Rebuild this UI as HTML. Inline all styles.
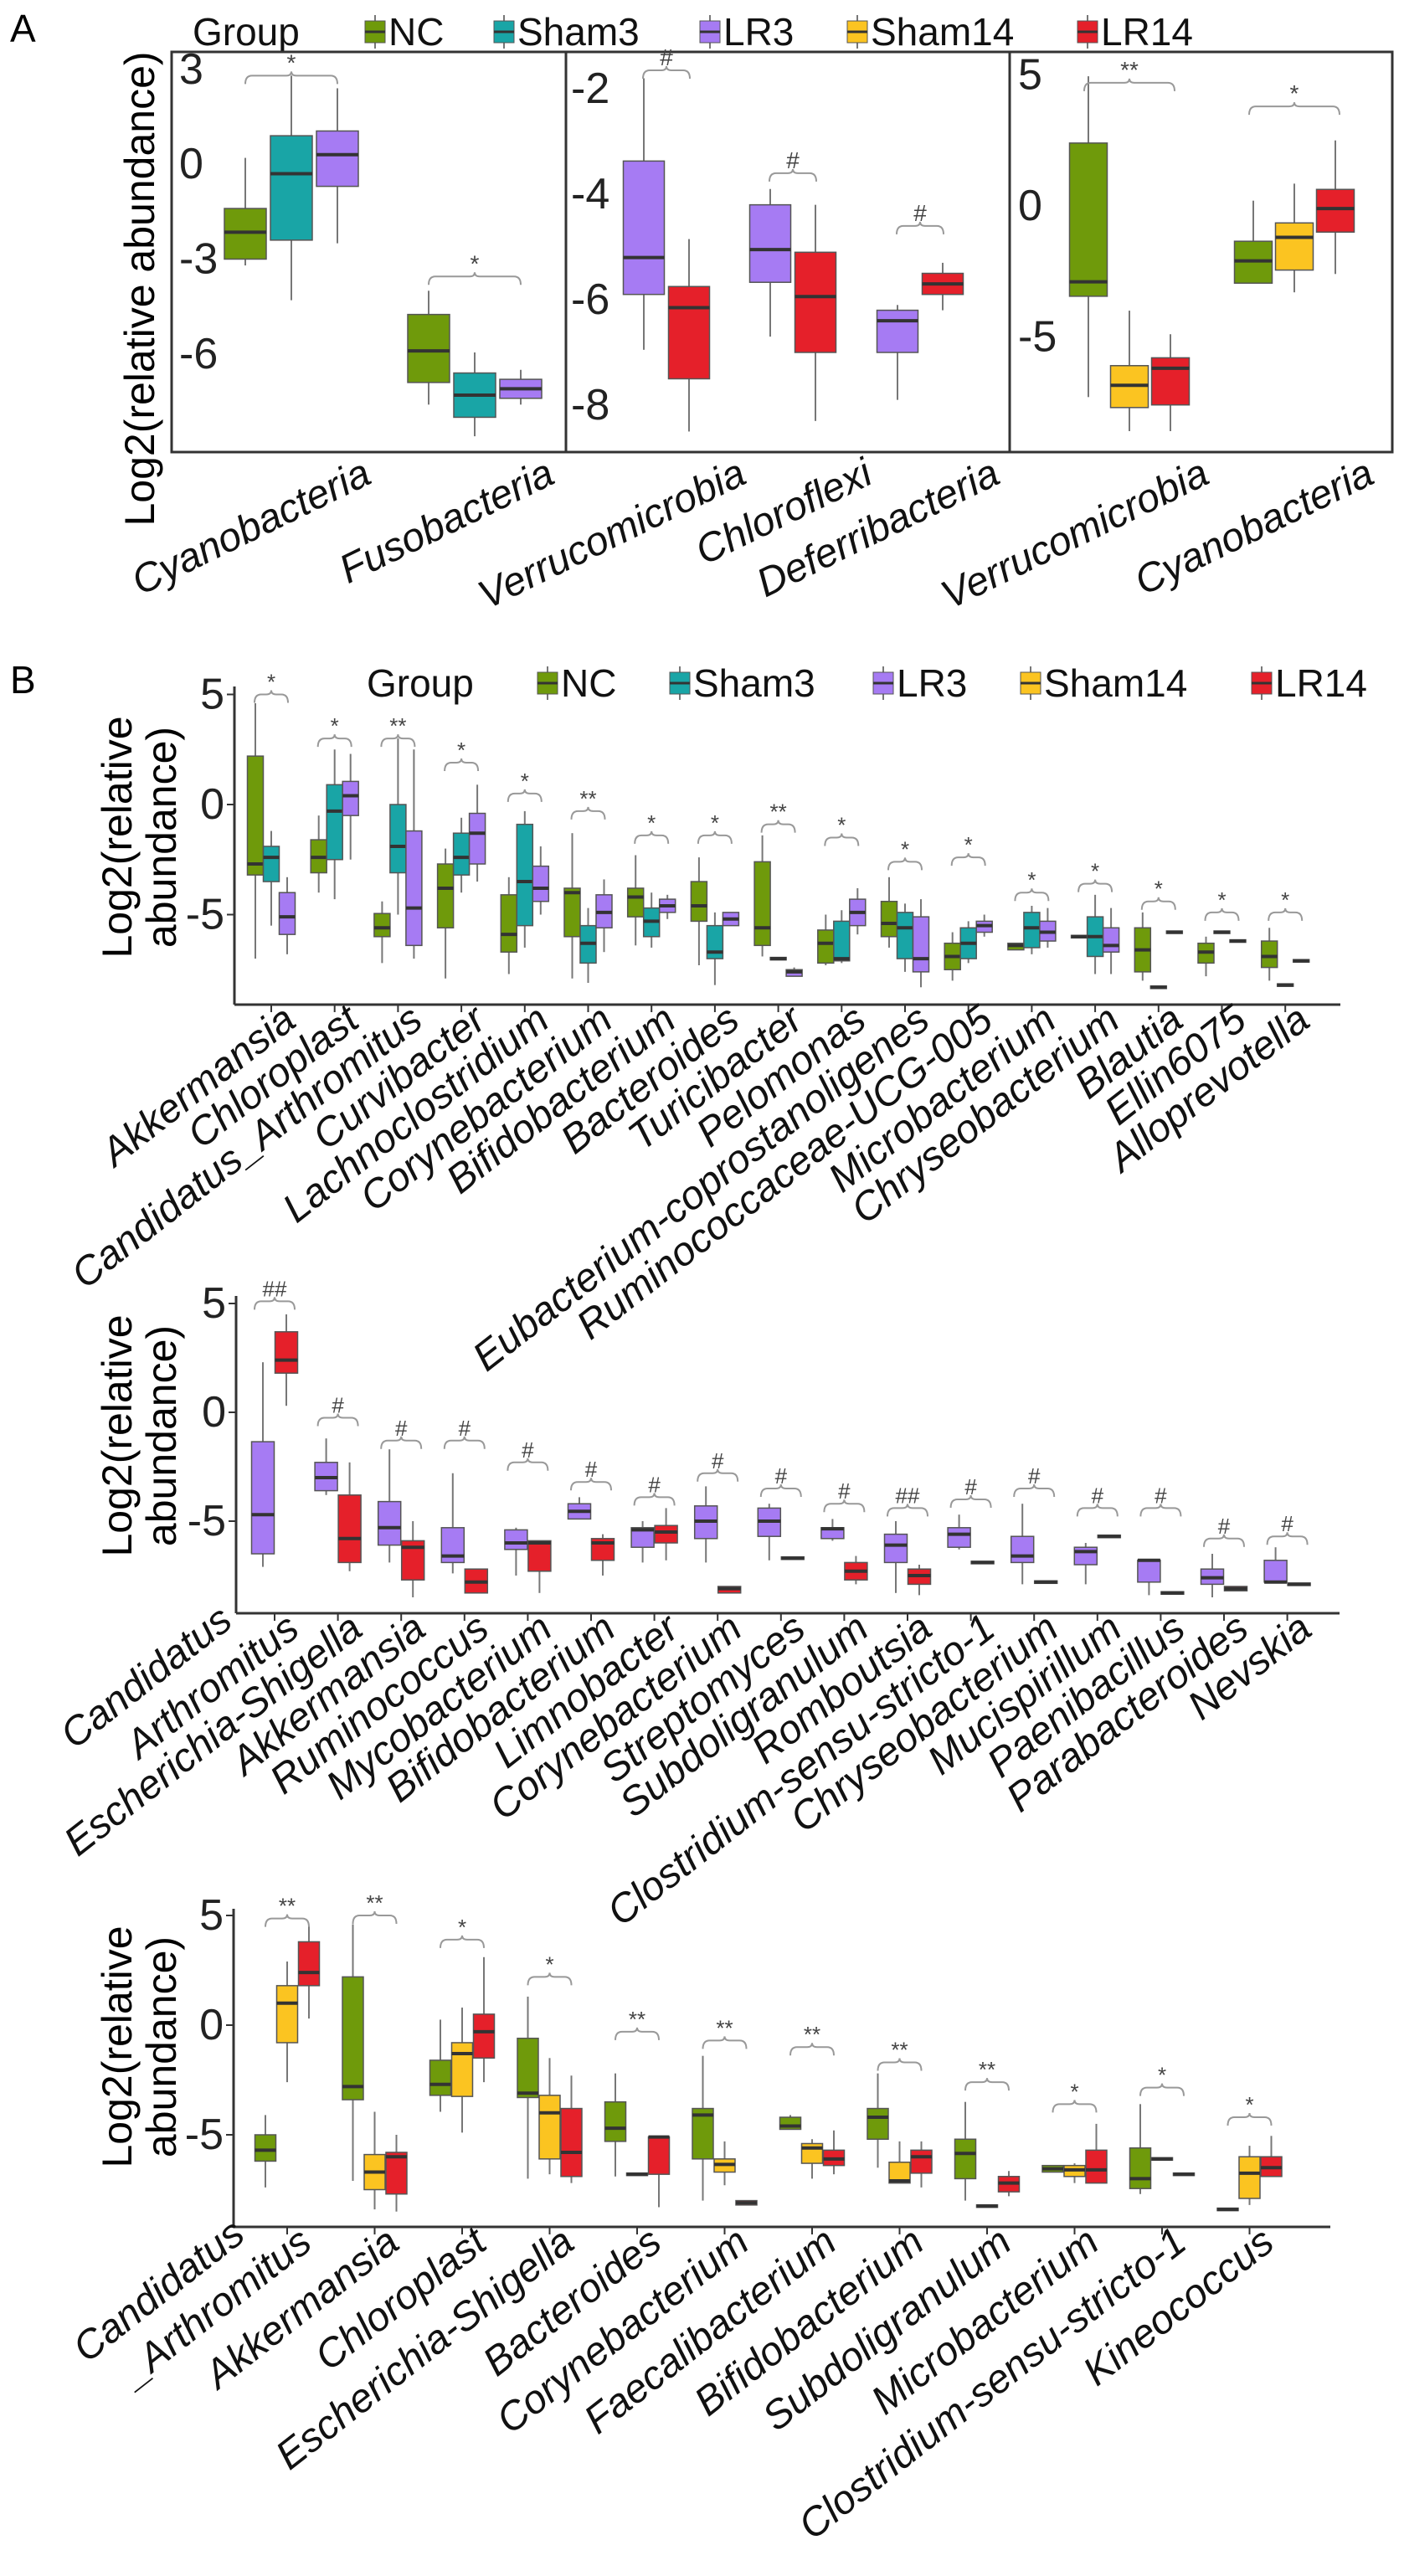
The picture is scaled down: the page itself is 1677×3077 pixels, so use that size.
<!DOCTYPE html>
<html><head><meta charset="utf-8">
<style>
html,body{margin:0;padding:0;background:#fff;}
svg{display:block;font-family:"Liberation Sans",Arial,sans-serif;}
.cat{font-style:italic;font-size:48px;fill:#111;}
.tick{font-size:52px;fill:#222;}
.leg{font-size:46px;fill:#111;}
.sig{font-size:26px;fill:#444;}
</style></head>
<body>
<svg id="fig" width="1677" height="3077" viewBox="0 0 1677 3077" xmlns="http://www.w3.org/2000/svg">
<rect x="0" y="0" width="1677" height="3077" fill="#fff"/>
<text x="12" y="50" font-size="46">A</text>
<text x="12" y="828" font-size="46">B</text>
<text x="184" y="345" font-size="50" text-anchor="middle" transform="rotate(-90 184 345)">Log2(relative abundance)</text>
<g>
<text x="157" y="1000" font-size="50" text-anchor="middle" transform="rotate(-90 157 1000)">Log2(relative</text>
<text x="210" y="1000" font-size="50" text-anchor="middle" transform="rotate(-90 210 1000)">abundance)</text></g>
<g>
<text x="157" y="1715" font-size="50" text-anchor="middle" transform="rotate(-90 157 1715)">Log2(relative</text>
<text x="210" y="1715" font-size="50" text-anchor="middle" transform="rotate(-90 210 1715)">abundance)</text></g>
<g>
<text x="157" y="2445" font-size="50" text-anchor="middle" transform="rotate(-90 157 2445)">Log2(relative</text>
<text x="210" y="2445" font-size="50" text-anchor="middle" transform="rotate(-90 210 2445)">abundance)</text></g>
<g id="root"></g>
</svg>
<script>
// ---------- colors ----------
const groupNames = ['NC','Sham3','LR3','Sham14','LR14'];
const groupColors = ['#6f9a0b','#19a5a6','#a67bf3','#fbc421','#e5202a'];

// ---------- Panel A data: [lo,q1,med,q3,hi] ----------
const a1Cats = ['Cyanobacteria','Fusobacteria'];
const a1NC = [[-3.2,-3.0,-2.15,-1.4,0.2],[-7.6,-6.9,-5.9,-4.75,-4.0]];
const a1Sham3 = [[-4.3,-2.4,-0.3,0.9,2.8],[-8.6,-8.0,-7.3,-6.6,-5.95]];
const a1LR3 = [[-2.5,-0.7,0.3,1.05,2.4],[-7.6,-7.4,-7.1,-6.8,-6.5]];
const a1Sig = [2.8,-3.55];
const a1SigLab = ['*','*'];
const a1Ticks = [3,0,-3,-6];

const a2Cats = ['Verrucomicrobia','Chloroflexi','Deferribacteria'];
const a2LR3 = [[-6.95,-5.9,-5.2,-3.37,-1.8],[-6.7,-5.67,-5.05,-4.2,-3.9],[-7.9,-7.0,-6.4,-6.2,-6.1]];
const a2LR14 = [[-8.5,-7.5,-6.15,-5.75,-4.85],[-8.3,-7.0,-5.94,-5.1,-4.2],[-6.2,-5.9,-5.7,-5.5,-5.3]];
const a2Sig = [-1.65,-3.6,-4.6];
const a2SigLab = ['#','#','#'];
const a2Ticks = [-2,-4,-6,-8];

const a3Cats = ['Verrucomicrobia','Cyanobacteria'];
const a3NC = [[-7.3,-3.45,-2.9,2.4,4.95],[-2.95,-2.95,-2.1,-1.35,0.2]];
const a3Sham14 = [[-8.6,-7.7,-6.85,-6.1,-4.0],[-3.3,-2.45,-1.2,-0.65,0.85]];
const a3LR14 = [[-8.6,-7.6,-6.2,-5.8,-4.9],[-2.6,-1.0,-0.1,0.63,2.5]];
const a3Sig = [4.7,3.8];
const a3SigLab = ['**','*'];
const a3Ticks = [5,0,-5];

// ---------- Panel B1 ----------
const b1Cats = ['Akkermansia','Chloroplast','Candidatus_Arthromitus','Curvibacter','Lachnoclostridium','Corynebacterium','Bifidobacterium','Bacteroides','Turicibacter','Pelomonas','Eubacterium-coprostanoligenes','Ruminococcaceae-UCG-005','Microbacterium','Chryseobacterium','Blautia','Ellin6075','Alloprevotella'];
const b1NC = [[-7.0,-3.2,-2.7,2.2,4.6],[-4.0,-3.1,-2.4,-1.6,-0.5],[-7.2,-6.0,-5.6,-4.95,-4.4],[-7.9,-5.6,-3.8,-2.7,-2.0],[-7.7,-6.7,-5.9,-4.1,-3.3],[-7.9,-6.0,-4.0,-3.8,-1.3],[-6.4,-5.1,-4.2,-3.8,-2.3],[-7.3,-5.3,-4.6,-3.5,-2.4],[-6.9,-6.4,-5.6,-2.6,-1.4],[-7.3,-7.2,-6.3,-5.7,-5.0],[-6.5,-6.0,-5.4,-4.4,-3.3],[-8.0,-7.5,-6.9,-6.3,-5.8],[-6.6,-6.6,-6.4,-6.3,-6.3],[-6.0,-6.0,-6.0,-6.0,-6.0],[-8.0,-7.6,-6.6,-5.6,-4.9],[-7.8,-7.2,-6.7,-6.3,-6.0],[-8.0,-7.4,-6.9,-6.2,-5.6]];
const b1Sham3 = [[-5.5,-3.5,-2.4,-1.9,-1.2],[-4.3,-2.5,-0.3,0.9,2.5],[-5.0,-3.1,-1.9,0.0,3.0],[-4.0,-3.2,-2.4,-1.3,-0.6],[-6.5,-5.5,-3.5,-0.9,-0.3],[-8.1,-7.2,-6.3,-5.5,-4.7],[-6.5,-6.0,-5.3,-4.7,-4.0],[-8.2,-7.0,-6.7,-5.5,-4.9],[-7.0,-7.0,-7.0,-7.0,-7.0],[-7.2,-7.1,-7.0,-5.3,-4.8],[-7.6,-7.0,-5.6,-4.9,-4.5],[-7.2,-7.0,-6.3,-5.6,-5.3],[-6.8,-6.5,-5.6,-4.9,-4.6],[-7.7,-6.9,-6.0,-5.1,-4.1],[-8.3,-8.3,-8.3,-8.3,-8.3],[-5.8,-5.8,-5.8,-5.8,-5.8],[-8.2,-8.2,-8.2,-8.2,-8.2]];
const b1LR3 = [[-6.8,-5.9,-5.1,-4.0,-3.3],[-2.5,-0.5,0.4,1.05,2.3],[-7.0,-6.4,-4.7,-1.2,2.5],[-3.5,-2.7,-1.3,-0.4,0.9],[-5.0,-4.4,-3.8,-2.8,-1.9],[-6.7,-5.6,-4.9,-4.1,-3.4],[-5.2,-4.9,-4.6,-4.3,-4.1],[-5.5,-5.5,-5.2,-4.9,-4.9],[-7.8,-7.8,-7.6,-7.5,-7.4],[-5.9,-5.5,-4.9,-4.3,-3.8],[-8.3,-7.6,-7.0,-5.1,-4.3],[-6.0,-5.8,-5.5,-5.3,-5.0],[-6.5,-6.2,-5.8,-5.3,-4.7],[-7.7,-6.7,-6.4,-5.6,-4.7],[-5.8,-5.8,-5.8,-5.8,-5.8],[-6.2,-6.2,-6.2,-6.2,-6.2],[-7.1,-7.1,-7.1,-7.1,-7.1]];
const b1Sig = [5.0,3.0,3.0,1.9,0.5,-0.3,-1.4,-1.4,-0.9,-1.5,-2.6,-2.4,-4.0,-3.6,-4.4,-4.9,-4.9];
const b1SigLab = ['*','*','**','*','*','**','*','*','**','*','*','*','*','*','*','*','*'];
const bTicks = [5,0,-5];

// ---------- Panel B2 ----------
const b2Cats = ['Arthromitus','Escherichia-Shigella','Akkermansia','Ruminococcus','Mycobacterium','Bifidobacterium','Limnobacter','Corynebacterium','Streptomyces','Subdoligranulum','Romboutsia','Clostridium-sensu-stricto-1','Chryseobacterium','Mucispirillum','Paenibacillus','Parabacteroides','Nevskia'];
const b2LR3 = [[-7.1,-6.5,-4.7,-1.35,2.3],[-3.8,-3.6,-3.0,-2.3,-1.2],[-6.9,-6.1,-5.3,-4.1,-1.7],[-7.4,-6.9,-6.6,-5.3,-2.8],[-7.5,-6.3,-6.0,-5.4,-5.3],[-4.9,-4.9,-4.55,-4.2,-3.9],[-6.9,-6.2,-5.4,-5.3,-5.0],[-6.9,-5.8,-5.0,-4.3,-3.4],[-6.8,-5.7,-5.0,-4.4,-4.2],[-5.9,-5.8,-5.35,-5.3,-4.9],[-8.3,-6.9,-6.1,-5.6,-5.0],[-6.3,-6.2,-5.6,-5.3,-4.7],[-7.9,-6.9,-6.6,-5.7,-4.2],[-7.9,-7.0,-6.4,-6.2,-6.0],[-8.4,-7.8,-6.8,-6.8,-6.8],[-8.5,-7.9,-7.6,-7.2,-6.5],[-7.8,-7.8,-7.8,-6.8,-6.2]];
const b2LR14 = [[0.3,1.8,2.4,3.7,4.5],[-7.3,-6.9,-5.8,-3.8,-2.3],[-8.5,-7.7,-6.2,-5.9,-5.0],[-8.3,-8.3,-7.8,-7.2,-7.2],[-8.3,-7.3,-6.0,-5.9,-5.9],[-7.5,-6.8,-6.0,-5.8,-5.6],[-6.8,-6.0,-5.5,-5.2,-4.4],[-8.3,-8.3,-8.1,-8.0,-8.0],[-6.7,-6.7,-6.7,-6.7,-6.7],[-7.9,-7.7,-7.3,-6.9,-6.6],[-8.4,-7.9,-7.5,-7.2,-7.0],[-6.9,-6.9,-6.9,-6.9,-6.9],[-7.8,-7.8,-7.8,-7.8,-7.8],[-5.7,-5.7,-5.7,-5.7,-5.7],[-8.3,-8.3,-8.3,-8.3,-8.3],[-8.2,-8.2,-8.1,-8.0,-8.0],[-7.9,-7.9,-7.9,-7.9,-7.9]];
const b2Sig = [5.1,-0.25,-1.3,-1.3,-2.3,-3.2,-3.9,-2.8,-3.5,-4.2,-4.4,-4.0,-3.5,-4.4,-4.4,-5.8,-5.7];
const b2SigLab = ['##','#','#','#','#','#','#','#','#','#','##','#','#','#','#','#','#'];

// ---------- Panel B3 ----------
const b3Cats = ['_Arthromitus','Akkermansia','Chloroplast','Escherichia-Shigella','Bacteroides','Corynebacterium','Faecalibacterium','Bifidobacterium','Subdoligranulum','Microbacterium','Clostridium-sensu-stricto-1','Kineococcus'];
const b3NC = [[-7.4,-6.2,-5.7,-5.0,-4.1],[-7.1,-3.4,-2.8,2.2,4.6],[-3.95,-3.2,-2.7,-1.6,0.25],[-7.0,-3.3,-3.1,-0.6,1.3],[-6.9,-5.3,-4.7,-3.5,-2.2],[-8.0,-6.1,-4.1,-3.8,-1.4],[-4.75,-4.75,-4.6,-4.2,-4.1],[-6.5,-5.2,-4.2,-3.8,-2.2],[-8.0,-7.0,-5.85,-5.2,-3.5],[-6.7,-6.7,-6.55,-6.4,-6.4],[-7.7,-7.45,-7.0,-5.6,-3.6],[-8.4,-8.4,-8.4,-8.4,-8.4]];
const b3Sham14 = [[-2.6,-0.8,1.0,1.8,2.9],[-8.4,-7.5,-6.7,-5.9,-3.95],[-4.9,-3.25,-1.3,-0.8,0.8],[-6.8,-6.1,-4.0,-3.2,-1.5],[-6.8,-6.8,-6.8,-6.8,-6.8],[-7.3,-6.7,-6.35,-6.1,-5.3],[-7.0,-6.3,-5.6,-5.4,-5.2],[-7.2,-7.2,-7.1,-6.25,-5.3],[-8.25,-8.25,-8.25,-8.25,-8.25],[-7.2,-6.9,-6.6,-6.4,-6.3],[-6.1,-6.1,-6.1,-6.1,-6.1],[-8.2,-7.9,-6.75,-6.0,-5.5]];
const b3LR14 = [[0.3,1.8,2.4,3.8,4.5],[-8.5,-7.7,-6.0,-5.8,-5.0],[-2.6,-1.5,-0.3,0.5,3.1],[-7.2,-6.9,-5.8,-3.8,-2.3],[-8.3,-6.8,-5.1,-5.1,-5.1],[-8.2,-8.2,-8.1,-8.0,-8.0],[-6.8,-6.4,-6.1,-5.7,-4.8],[-7.4,-6.75,-6.0,-5.7,-5.3],[-7.8,-7.6,-7.2,-6.9,-6.65],[-7.2,-7.2,-6.6,-5.7,-4.5],[-6.8,-6.8,-6.8,-6.8,-6.8],[-6.9,-6.9,-6.5,-6.0,-5.05]];
const b3Sig = [4.86,5.0,3.9,2.2,-0.3,-0.7,-1.0,-1.7,-2.6,-3.6,-2.85,-4.2];
const b3SigLab = ['**','**','*','*','**','**','**','**','**','*','*','*'];

// ---------- helpers ----------
const NS = 'http://www.w3.org/2000/svg';
const root = document.getElementById('root');
function mk(tag, attrs, parent){
  const e = document.createElementNS(NS, tag);
  for (const k in attrs) e.setAttribute(k, attrs[k]);
  (parent||root).appendChild(e);
  return e;
}
function linScale(d0,d1,r0,r1){ return v => r0 + (v-d0)*(r1-r0)/(d1-d0); }

function drawBox(parent, cx, w, s, color, y){
  const g = mk('g', {}, parent);
  
  
  mk('line', {x1:cx,x2:cx,y1:y(s[4]),y2:y(s[3]),stroke:'#777','stroke-width':2}, g);
  mk('line', {x1:cx,x2:cx,y1:y(s[1]),y2:y(s[0]),stroke:'#777','stroke-width':2}, g);
  const top = y(s[3]), bot = y(s[1]);
  const h = Math.max(bot-top, 3);
  mk('rect', {x:cx-w/2,y:top-(h-(bot-top))/2,width:w,height:h,fill:color,stroke:'#555','stroke-width':1.5}, g);
  mk('line', {x1:cx-w/2,x2:cx+w/2,y1:y(s[2]),y2:y(s[2]),stroke:'#333','stroke-width':4}, g);
}
function drawBracket(parent, cx, half, yv, lab, fs){
  const g = mk('g', {}, parent);
  
  
  const d = `M${cx-half},${yv+10} Q${cx-half},${yv} ${cx-half+8},${yv} L${cx-6},${yv} Q${cx},${yv} ${cx},${yv-5} Q${cx},${yv} ${cx+6},${yv} L${cx+half-8},${yv} Q${cx+half},${yv} ${cx+half},${yv+10}`;
  mk('path', {d:d,fill:'none',stroke:'#999','stroke-width':2}, g);
  const t = mk('text', {x:cx,y:yv-6,'text-anchor':'middle','font-size':fs,fill:'#444'}, g);
  t.textContent = lab;
}
function catLabel(parent, x, y, ang, text, fs){
  const t = mk('text', {x:x,y:y,'text-anchor':'end',class:'cat','font-size':fs,transform:`rotate(${-ang} ${x} ${y})`}, parent);
  t.textContent = text;
  return t;
}

// ---------- legends ----------
function legend(y, entries){
  const g = mk('g', {});
  
  
  entries.forEach(en => {
    if (en.title){
      const t = mk('text', {x:en.x,y:y+16,class:'leg'}, g);
      t.textContent = 'Group';
      return;
    }
    const k = mk('g', {}, g);
    
    
    mk('line', {x1:en.x+12,x2:en.x+12,y1:y-20,y2:y+20,stroke:'#777','stroke-width':2}, k);
    mk('rect', {x:en.x,y:y-13,width:24,height:26,fill:en.c,stroke:'#555','stroke-width':1}, k);
    mk('line', {x1:en.x,x2:en.x+24,y1:y,y2:y,stroke:'#333','stroke-width':3}, k);
    const t = mk('text', {x:en.x+28,y:y+16,class:'leg'}, k);
    t.textContent = en.name;
  });
}
legend(38, [{title:1,x:230},{name:'NC',x:436,c:groupColors[0]},{name:'Sham3',x:590,c:groupColors[1]},{name:'LR3',x:836,c:groupColors[2]},{name:'Sham14',x:1012,c:groupColors[3]},{name:'LR14',x:1287,c:groupColors[4]}]);
legend(816, [{title:1,x:438},{name:'NC',x:642,c:groupColors[0]},{name:'Sham3',x:800,c:groupColors[1]},{name:'LR3',x:1043,c:groupColors[2]},{name:'Sham14',x:1219,c:groupColors[3]},{name:'LR14',x:1495,c:groupColors[4]}]);

// ---------- Panel A ----------
const A_TOP = 62, A_BOT = 540;
const aFrame = mk('rect', {x:205,y:A_TOP,width:1458,height:A_BOT-A_TOP,fill:'none',stroke:'#333','stroke-width':3});


mk('line', {x1:676,x2:676,y1:A_TOP,y2:A_BOT,stroke:'#333','stroke-width':3});
mk('line', {x1:1206,x2:1206,y1:A_TOP,y2:A_BOT,stroke:'#333','stroke-width':3});

function facetA(name, left, tickX, yDom, ticks, cats, centers, series, colors, offs, bw, sig, sigLab, sigHalf){
  const g = mk('g', {});
  
  
  const y = linScale(yDom[0], yDom[1], A_BOT, A_TOP);
  ticks.forEach(v => {
    const t = mk('text', {x:tickX,y:y(v),'dominant-baseline':'central',class:'tick','font-size':50}, g);
    
    
    t.textContent = v;
  });
  cats.forEach((c,i) => {
    series.forEach((s,j) => drawBox(g, centers[i]+offs[j], bw, s[i], colors[j], y));
    drawBracket(g, centers[i], sigHalf, y(sig[i]), sigLab[i], 28);
    const l = catLabel(g, centers[i]+98, A_BOT+36, 26, c, 53);
    
    
  });
}
facetA('facet-nc-sham3-lr3', 205, 214, [-9.1,3.55], a1Ticks, a1Cats, [348,567], [a1NC,a1Sham3,a1LR3], [groupColors[0],groupColors[1],groupColors[2]], [-55,0,55], 50, a1Sig, a1SigLab, 55);
facetA('facet-lr3-lr14', 676, 682, [-8.89,-1.3], a2Ticks, a2Cats, [796,947,1099], [a2LR3,a2LR14], [groupColors[2],groupColors[4]], [-27,27], 49, a2Sig, a2SigLab, 28);
facetA('facet-nc-sham14-lr14', 1206, 1216, [-9.4,5.88], a3Ticks, a3Cats, [1349,1546], [a3NC,a3Sham14,a3LR14], [groupColors[0],groupColors[3],groupColors[4]], [-49,0,49], 45, a3Sig, a3SigLab, 54);

// ---------- Panel B charts ----------
function chartB(name, o){
  const g = mk('g', {});
  
  
  const y = v => o.y0 - o.k*v;
  mk('line', {x1:o.left,x2:o.left,y1:o.top,y2:o.bot,stroke:'#333','stroke-width':3}, g);
  mk('line', {x1:o.left,x2:o.right,y1:o.bot,y2:o.bot,stroke:'#333','stroke-width':3}, g);
  bTicks.forEach(v => {
    mk('line', {x1:o.left-9,x2:o.left,y1:y(v),y2:y(v),stroke:'#333','stroke-width':2}, g);
    const t = mk('text', {x:o.left-12,y:y(v),'dominant-baseline':'central','text-anchor':'end',class:'tick'}, g);
    
    
    t.textContent = v;
  });
  o.cats.forEach((c,i) => {
    const cx = o.x0 + o.dx*i;
    mk('line', {x1:cx,x2:cx,y1:o.bot,y2:o.bot+9,stroke:'#333','stroke-width':2}, g);
    o.series.forEach((s,j) => drawBox(g, cx+o.offs[j], o.bw, s[i], o.colors[j], y));
    drawBracket(g, cx, o.half, y(o.sig[i]), o.sigLab[i], 26);
    const l = catLabel(g, cx+32, o.bot+24, 38, c, 51);
    
    
    if (i===0 && o.firstLine){
      const lx = cx+32-35-45, ly = o.bot+24-45+35;
      const l2 = catLabel(g, lx, ly, 38, o.firstLine, 51);
      
      
    }
  });
}
chartB('chart-b1-nc-sham3-lr3', {left:280,right:1601,top:820,bot:1200,y0:961,k:26.3,x0:324,dx:75.7,cats:b1Cats,
  series:[b1NC,b1Sham3,b1LR3],colors:[groupColors[0],groupColors[1],groupColors[2]],offs:[-19,0,19],bw:19,sig:b1Sig,sigLab:b1SigLab,half:20});
chartB('chart-b2-lr3-lr14', {left:282,right:1600,top:1548,bot:1927,y0:1687,k:26,x0:328,dx:75.6,cats:b2Cats,
  series:[b2LR3,b2LR14],colors:[groupColors[2],groupColors[4]],offs:[-14,14],bw:27,sig:b2Sig,sigLab:b2SigLab,half:24,firstLine:'Candidatus'});
chartB('chart-b3-nc-sham14-lr14', {left:279,right:1589,top:2280,bot:2660,y0:2419,k:26.2,x0:343,dx:104.5,cats:b3Cats,
  series:[b3NC,b3Sham14,b3LR14],colors:[groupColors[0],groupColors[3],groupColors[4]],offs:[-26,0,26],bw:25,sig:b3Sig,sigLab:b3SigLab,half:26,firstLine:'Candidatus'});
</script>
</body></html>
